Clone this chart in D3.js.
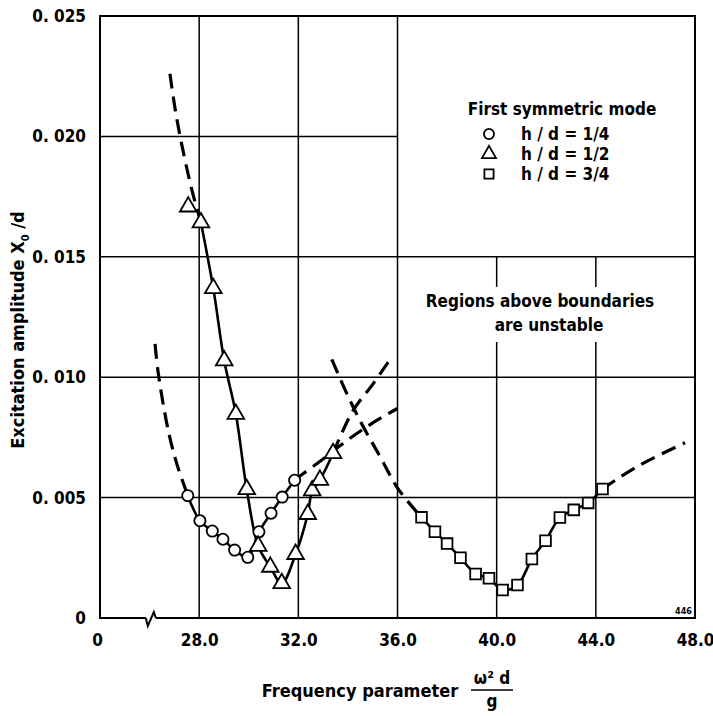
<!DOCTYPE html>
<html>
<head>
<meta charset="utf-8">
<script src="https://cdn.jsdelivr.net/npm/d3@7"></script>
<style>
  body { margin: 0; background: #fff; }
  svg text { font-family: "DejaVu Sans Condensed", "DejaVu Sans", sans-serif; font-stretch: condensed; font-weight: bold; fill: #000; }
</style>
</head>
<body>
<div id="chart"></div>
<script>

// ---- data ----
// h/d = 1/4 (circles)
var circleX = [27.54, 28.03, 28.53, 28.96, 29.43, 29.96, 30.41, 30.90, 31.35, 31.85];
var circleY = [0.00508, 0.00404, 0.00361, 0.00327, 0.00282, 0.00252, 0.00358, 0.00435, 0.00502, 0.00572];
var circleDashLeftX = [26.22, 26.35, 26.75, 27.09, 27.54];
var circleDashLeftY = [0.01138, 0.01017, 0.0078, 0.00643, 0.00508];
var circleDashRightX = [31.85, 32.2, 33.0, 34.0, 35.0, 36.0];
var circleDashRightY = [0.00572, 0.0060, 0.0066, 0.0074, 0.0081, 0.0087];

// h/d = 1/2 (triangles)
var triX = [27.56, 28.07, 28.57, 29.01, 29.48, 29.92, 30.38, 30.87, 31.33, 31.89, 32.38, 32.56, 32.87, 33.40];
var triY = [0.01708, 0.01642, 0.01369, 0.01069, 0.00847, 0.00534, 0.00299, 0.00212, 0.00144, 0.00265, 0.00431, 0.00529, 0.00573, 0.00684];
var triDashLeftX = [26.82, 27.02, 27.29, 27.70, 28.07];
var triDashLeftY = [0.0226, 0.0212, 0.0197, 0.0178, 0.01642];
var triDashRightX = [33.40, 34.2, 35.0, 35.77];
var triDashRightY = [0.00684, 0.0086, 0.0097, 0.01085];

// h/d = 3/4 (squares)
var sqX = [36.97, 37.51, 38.00, 38.54, 39.15, 39.69, 40.24, 40.84, 41.42, 41.97, 42.55, 43.11, 43.69, 44.27];
var sqY = [0.00418, 0.00358, 0.00309, 0.00250, 0.00183, 0.00165, 0.00116, 0.00137, 0.00245, 0.00321, 0.00417, 0.00449, 0.00478, 0.00536];
var sqDashLeftX = [33.35, 34.0, 34.62, 35.3, 35.97, 36.71, 36.97];
var sqDashLeftY = [0.01074, 0.00922, 0.00794, 0.0067, 0.00545, 0.00448, 0.00418];
var sqDashRightX = [44.27, 45.65, 47.6];
var sqDashRightY = [0.00536, 0.00628, 0.00728];

// ticks
var xTicks = [24, 28, 32, 36, 40, 44, 48];
var xTickLabels = ["0", "28.0", "32.0", "36.0", "40.0", "44.0", "48.0"];
var yTicks = [0, 0.005, 0.010, 0.015, 0.020, 0.025];
var yTickLabels = ["0", "0. 005", "0. 010", "0. 015", "0. 020", "0. 025"];

var legendLabels = ["h / d = 1/4", "h / d = 1/2", "h / d = 3/4"];

// ---- layout ----
var svgWidth = 713, svgHeight = 716;
var margin = { top: 16, right: 18, bottom: 98, left: 100 };
var width = svgWidth - margin.left - margin.right;
var height = svgHeight - margin.top - margin.bottom;

var svg = d3.select("#chart").append("svg")
  .attr("width", svgWidth)
  .attr("height", svgHeight);

var g = svg.append("g")
  .attr("transform", `translate(${margin.left}, ${margin.top})`);

var xScale = d3.scaleLinear().domain([24, 48]).range([0, width]);
var yScale = d3.scaleLinear().domain([0, 0.025]).range([height, 0]);

function zip(xs, ys) { return xs.map((x, i) => [x, ys[i]]); }

// ---- grid ----
var grid = g.append("g").attr("stroke", "#000").attr("stroke-width", 1.5);

// full-height verticals at 28, 32, 36
[28, 32, 36].forEach(function(v) {
  grid.append("line")
    .attr("x1", xScale(v)).attr("x2", xScale(v))
    .attr("y1", 0).attr("y2", height);
});
// 40 and 44 stop below the legend and leave a gap for the note
[40, 44].forEach(function(v) {
  grid.append("line")
    .attr("x1", xScale(v)).attr("x2", xScale(v))
    .attr("y1", yScale(0.015)).attr("y2", yScale(0.01375));
  grid.append("line")
    .attr("x1", xScale(v)).attr("x2", xScale(v))
    .attr("y1", yScale(0.01146)).attr("y2", height);
});
// horizontals
[0.005, 0.010, 0.015].forEach(function(v) {
  grid.append("line")
    .attr("x1", 0).attr("x2", width)
    .attr("y1", yScale(v)).attr("y2", yScale(v));
});
grid.append("line")
  .attr("x1", 0).attr("x2", xScale(36))
  .attr("y1", yScale(0.020)).attr("y2", yScale(0.020));

// frame with axis break
var bx = xScale(26.05);
g.append("path")
  .attr("fill", "none")
  .attr("stroke", "#000")
  .attr("stroke-width", 2)
  .attr("stroke-linejoin", "miter")
  .attr("d", `M${bx - 5},${height} L0,${height} L0,0 L${width},0 L${width},${height} L${bx + 5},${height}
              M${bx - 5},${height} L${bx - 3},${height + 8} L${bx + 3},${height - 6} L${bx + 5},${height}`);

// ---- axes ----
var xAxis = d3.axisBottom(xScale)
  .tickValues(xTicks)
  .tickFormat((d, i) => xTickLabels[i])
  .tickSize(0)
  .tickPadding(16);
var xg = g.append("g").attr("transform", `translate(0, ${height})`).call(xAxis);
xg.select(".domain").remove();
xg.selectAll("text").attr("font-size", "17px").style("font-family", null);
xg.selectAll(".tick").filter(d => d === 24).select("text").attr("dx", -3);

var yAxis = d3.axisLeft(yScale)
  .tickValues(yTicks)
  .tickFormat((d, i) => yTickLabels[i])
  .tickSize(0)
  .tickPadding(14);
var yg = g.append("g").call(yAxis);
yg.select(".domain").remove();
yg.selectAll("text").attr("font-size", "17px").style("font-family", null);

// ---- lines ----
var line = d3.line()
  .x(d => xScale(d[0]))
  .y(d => yScale(d[1]))
  .curve(d3.curveCatmullRom.alpha(0.5));

var solids = [zip(circleX, circleY), zip(triX.slice(1), triY.slice(1)), zip(sqX, sqY)];
var dashes = [
  zip(circleDashLeftX, circleDashLeftY), zip(circleDashRightX, circleDashRightY),
  zip(triDashLeftX, triDashLeftY), zip(triDashRightX, triDashRightY),
  zip(sqDashLeftX, sqDashLeftY), zip(sqDashRightX, sqDashRightY)
];

g.selectAll(".solid")
  .data(solids)
  .enter()
  .append("path")
  .attr("class", "solid")
  .attr("d", line)
  .attr("fill", "none")
  .attr("stroke", "#000")
  .attr("stroke-width", 2.6);

g.selectAll(".dash")
  .data(dashes)
  .enter()
  .append("path")
  .attr("class", "dash")
  .attr("d", line)
  .attr("fill", "none")
  .attr("stroke", "#000")
  .attr("stroke-width", 3.2)
  .attr("stroke-dasharray", "15,8");

// ---- markers ----
var triSym = d3.symbol().type(d3.symbolTriangle).size(120);
var sqSym = d3.symbol().type(d3.symbolSquare).size(115);

g.selectAll(".circ")
  .data(zip(circleX, circleY))
  .enter()
  .append("circle")
  .attr("cx", d => xScale(d[0]))
  .attr("cy", d => yScale(d[1]))
  .attr("r", 5.6)
  .attr("fill", "#fff")
  .attr("stroke", "#000")
  .attr("stroke-width", 1.8);

g.selectAll(".tri")
  .data(zip(triX, triY))
  .enter()
  .append("path")
  .attr("d", triSym)
  .attr("transform", d => `translate(${xScale(d[0])}, ${yScale(d[1])})`)
  .attr("fill", "#fff")
  .attr("stroke", "#000")
  .attr("stroke-width", 1.8);

g.selectAll(".sq")
  .data(zip(sqX, sqY))
  .enter()
  .append("path")
  .attr("d", sqSym)
  .attr("transform", d => `translate(${xScale(d[0])}, ${yScale(d[1])})`)
  .attr("fill", "#fff")
  .attr("stroke", "#000")
  .attr("stroke-width", 1.8);

// ---- legend ----
var legend = svg.append("g");
legend.append("text")
  .attr("x", 562).attr("y", 115)
  .attr("text-anchor", "middle")
  .attr("font-size", "17px")
  .text("First symmetric mode");

var legendSyms = [d3.symbolCircle, d3.symbolTriangle, d3.symbolSquare];
legendLabels.forEach(function(lab, i) {
  var cy = 134 + i * 20;
  legend.append("path")
    .attr("d", d3.symbol().type(legendSyms[i]).size(i === 0 ? 80 : 85)())
    .attr("transform", `translate(489, ${cy})`)
    .attr("fill", "#fff")
    .attr("stroke", "#000")
    .attr("stroke-width", 1.8);
  legend.append("text")
    .attr("x", 521).attr("y", cy + 6)
    .attr("font-size", "17px")
    .text(lab);
});

svg.append("text")
  .attr("x", 540).attr("y", 307)
  .attr("text-anchor", "middle")
  .attr("font-size", "17px")
  .text("Regions above boundaries");
svg.append("text")
  .attr("x", 549).attr("y", 331)
  .attr("text-anchor", "middle")
  .attr("font-size", "17px")
  .text("are unstable");

svg.append("text")
  .attr("x", 692).attr("y", 614)
  .attr("text-anchor", "end")
  .attr("font-size", "9px")
  .text("446");

// ---- axis titles ----
svg.append("text")
  .attr("x", 360).attr("y", 697)
  .attr("text-anchor", "middle")
  .attr("font-size", "18px")
  .text("Frequency parameter");

var frac = svg.append("g").attr("transform", "translate(492, 690)");
frac.append("line")
  .attr("x1", -21).attr("x2", 21)
  .attr("stroke", "#000").attr("stroke-width", 1.6);
frac.append("text")
  .attr("y", -6).attr("text-anchor", "middle").attr("font-size", "17px")
  .text("\u03c9\u00b2 d");
frac.append("text")
  .attr("y", 17).attr("text-anchor", "middle").attr("font-size", "17px")
  .text("g");

var ylab = svg.append("text")
  .attr("transform", "translate(24, 330) rotate(-90)")
  .attr("text-anchor", "middle")
  .attr("font-size", "18px");
ylab.append("tspan").text("Excitation amplitude   X");
ylab.append("tspan").attr("font-size", "11px").attr("dy", 5).text("0");
ylab.append("tspan").attr("dy", -5).text(" /d");

</script>
</body>
</html>
